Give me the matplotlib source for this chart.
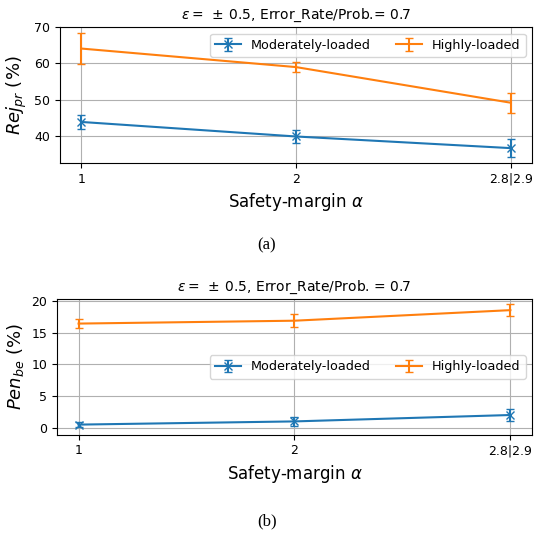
import matplotlib
matplotlib.use("Agg")
import matplotlib.pyplot as plt

x_labels = ["1", "2", "2.8|2.9"]
x_pos = [1, 2, 3]

# (a) Rej_pr
rej_moderate = [43.9, 39.9, 36.7]
rej_moderate_err = [2.0, 1.8, 2.4]
rej_high = [64.1, 59.0, 49.2]
rej_high_err = [4.2, 1.3, 2.7]

# (b) Pen_be
pen_moderate = [0.6, 1.1, 2.1]
pen_moderate_err = [0.45, 0.7, 1.0]
pen_high = [16.4, 16.85, 18.5]
pen_high_err = [0.7, 1.0, 0.9]

series_names = ["Moderately-loaded", "Highly-loaded"]
blue = "#1f77b4"
orange = "#ff7f0e"

fig = plt.figure(figsize=(5.34, 5.35), dpi=100)

ax1 = fig.add_axes([0.1124, 0.6953, 0.884, 0.254])
ax2 = fig.add_axes([0.1067, 0.1877, 0.8895, 0.2529])

def draw(ax, m, me, h, he, title, ylabel, legloc, ylim, yticks):
    ax.errorbar(x_pos, m, yerr=me, color=blue, marker="x", markersize=6,
                capsize=3, label=series_names[0], lw=1.5)
    ax.errorbar(x_pos, h, yerr=he, color=orange, capsize=3,
                label=series_names[1], lw=1.5)
    ax.set_xlim(0.9, 3.1)
    ax.set_ylim(*ylim)
    ax.set_yticks(yticks)
    ax.set_xticks(x_pos)
    ax.set_xticklabels(x_labels)
    ax.tick_params(labelsize=9)
    ax.grid(True, color="#b0b0b0", lw=0.8)
    ax.set_title(title, fontsize=10)
    ax.set_ylabel(ylabel, fontsize=13)
    ax.set_xlabel(r"Safety-margin $\alpha$", fontsize=12)
    ax.legend(loc=legloc, ncol=2, fontsize=9.2)

draw(ax1, rej_moderate, rej_moderate_err, rej_high, rej_high_err,
     r"$\epsilon =\;\pm\,0.5$, Error_Rate/Prob.= 0.7", r"$Rej_{pr}$ (%)",
     "upper right", (32.6, 70), [40, 50, 60, 70])
draw(ax2, pen_moderate, pen_moderate_err, pen_high, pen_high_err,
     r"$\epsilon =\;\pm\,0.5$, Error_Rate/Prob. = 0.7", r"$Pen_{be}$ (%)",
     "center right", (-0.96, 20.2), [0, 5, 10, 15, 20])

fig.text(0.5, 1 - 245 / 535, "(a)", ha="center", va="center",
         family="Liberation Serif", fontsize=12)
fig.text(0.5, 1 - 521 / 535, "(b)", ha="center", va="center",
         family="Liberation Serif", fontsize=12)

fig.savefig("out.png", dpi=100)
